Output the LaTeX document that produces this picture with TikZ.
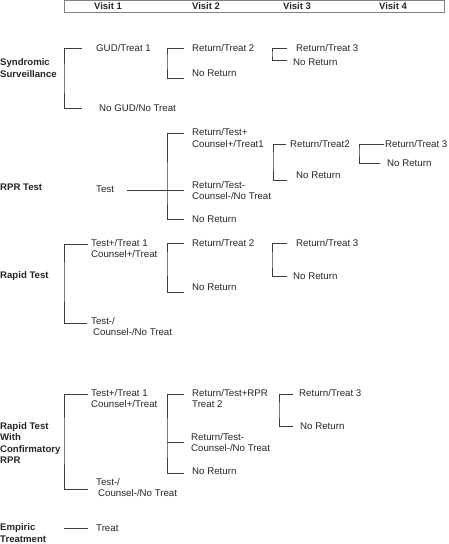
\documentclass[tikz,border=0pt]{standalone}
\usepackage{fontspec}
\setmainfont{Liberation Sans}
\usepackage{xcolor}
\definecolor{linegray}{RGB}{60, 60, 60}
\definecolor{textgray}{RGB}{38, 38, 38}
\newcommand{\twoline}[1]{\begin{tabular}[t]{@{}l@{}}#1\end{tabular}}
\tikzset{
  txt/.style={anchor=base west, inner sep=0pt, yshift=-3.4pt, text=textgray,
    font=\fontsize{9.7}{11.5}\selectfont},
  head/.style={anchor=west, align=left, inner sep=0pt, text=textgray,
    font=\fontsize{9.6}{11.5}\selectfont\bfseries},
  visit/.style={inner sep=0pt, text=textgray, font=\fontsize{9.5}{11.5}\selectfont\bfseries},
  link/.style={draw=linegray, line width=0.9pt}
}

\begin{document}
\begin{tikzpicture}[x=1pt, y=-1pt]
        \useasboundingbox (0,0) rectangle (448,544);
        % header
        \draw[link, draw=gray] (64,0.6) rectangle (444,12);
        \foreach \v/\x in {1/108,2/206,3/297,4/393} {
            \node[visit] (visit\v) at (\x,6.5) {Visit \v};
        }

        % syndromic surveillance
        \node[head] (sv) at (0,68) {Syndromic\\Surveillance};
        \coordinate (svbar) at (64,78);
        \coordinate (sv1) at (82,48);
        \coordinate (sv2) at (82,108);
        \node[txt] (gud) at (96,48) {GUD/Treat 1};
        \node[txt] (nogud) at (99,108) {No GUD/No Treat};
        \coordinate (gudbar) at (167,60);
        \coordinate (gud1) at (184,48);
        \coordinate (gud2) at (184,78);
        \node[txt] (gudret) at (192,48) {Return/Treat 2};
        \node[txt] (gudno) at (192,73.5) {No Return};
        \coordinate (gudretbar) at (272,54);
        \coordinate (gudret1) at (287,48);
        \coordinate (gudret2) at (287,60);
        \node[txt] (gudret3) at (296,48) {Return/Treat 3};
        \node[txt] (gudretno) at (293,62) {No Return};
        \draw[link] (sv1) -| (svbar) |- (sv2);
        \draw[link] (gud1) -| (gudbar) |- (gud2);
        \draw[link] (gudret1) -| (gudretbar) |- (gudret2);

        % RPR test
        \node[head] (rpr) at (0,187) {RPR Test};
        \node[txt] (test) at (96,189) {Test};
        \coordinate (rp0) at (127,190);
        \coordinate (rpbar) at (167,190);
        \coordinate (rp1) at (184,133);
        \coordinate (rp2) at (184,190);
        \coordinate (rp3) at (184,219);
        \node[txt] (rpa) at (192,132.5) {\twoline{Return/Test+\\Counsel+/Treat1}};
        \node[txt] (rpb) at (192,185) {\twoline{Return/Test-\\Counsel-/No Treat}};
        \node[txt] (rpc) at (192,219) {No Return};
        \coordinate (rpabar) at (273,160);
        \coordinate (rpa1) at (286,144);
        \coordinate (rpa2) at (287,180);
        \node[txt] (rparet) at (290,144) {Return/Treat2};
        \node[txt] (rpano) at (296,175) {No Return};
        \coordinate (rpaabar) at (359,150);
        \coordinate (rpaa1) at (384,144);
        \coordinate (rpaa2) at (380,163);
        \node[txt] (rpaaret) at (385,144) {Return/Treat 3};
        \node[txt] (rpaano) at (387,163) {No Return};
        \draw[link] (rp1) -| (rpbar) |- (rp3);
        \draw[link] (rp0) -- (rp2);
        \draw[link] (rpa1) -| (rpabar) |- (rpa2);
        \draw[link] (rpaa1) -| (rpaabar) |- (rpaa2);

        % rapid test
        \node[head] (rt) at (0,276) {Rapid Test};
        \coordinate (rtbar) at (64,280);
        \coordinate (rt1) at (88,244);
        \coordinate (rt2) at (87,323);
        \node[txt] (rta) at (91,243) {\twoline{Test+/Treat 1\\Counsel+/Treat}};
        \node[txt] (rtb) at (91,321) {\twoline{Test-/\\\hspace{2pt}Counsel-/No Treat}};
        \coordinate (rtabar) at (167,260);
        \coordinate (rta1) at (184,243);
        \coordinate (rta2) at (184,292);
        \node[txt] (rtaret) at (192,243) {Return/Treat 2};
        \node[txt] (rtano) at (192,287) {No Return};
        \coordinate (rtaabar) at (272,260);
        \coordinate (rtaa1) at (287,243);
        \coordinate (rtaa2) at (287,276);
        \node[txt] (rtaaret) at (296,243) {Return/Treat 3};
        \node[txt] (rtaano) at (293,276) {No Return};
        \draw[link] (rt1) -| (rtbar) |- (rt2);
        \draw[link] (rta1) -| (rtabar) |- (rta2);
        \draw[link] (rtaa1) -| (rtaabar) |- (rtaa2);

        % rapid test with confirmatory RPR
        \node[head] (cr) at (0,443) {Rapid Test\\With\\Confirmatory\\RPR};
        \coordinate (crbar) at (64,440);
        \coordinate (cr1) at (88,394);
        \coordinate (cr2) at (88,489);
        \node[txt] (cra) at (91,393) {\twoline{Test+/Treat 1\\Counsel+/Treat}};
        \node[txt] (crb) at (96,482) {\twoline{Test-/\\\hspace{2pt}Counsel-/No Treat}};
        \coordinate (crabar) at (167,442);
        \coordinate (cra1) at (184,394);
        \coordinate (cra2) at (184,442);
        \coordinate (cra3) at (184,473);
        \node[txt] (craret) at (192,393) {\twoline{Return/Test+RPR\\Treat 2}};
        \node[txt] (craneg) at (191,437) {\twoline{Return/Test-\\Counsel-/No Treat}};
        \node[txt] (crano) at (192,471) {No Return};
        \coordinate (craabar) at (279,410);
        \coordinate (craa1) at (293,394);
        \coordinate (craa2) at (293,426);
        \node[txt] (craaret) at (299,393) {Return/Treat 3};
        \node[txt] (craano) at (300,426) {No Return};
        \draw[link] (cr1) -| (crbar) |- (cr2);
        \draw[link] (cra1) -| (crabar) |- (cra3);
        \draw[link] (crabar) -- (cra2);
        \draw[link] (craa1) -| (craabar) |- (craa2);

        % empiric treatment
        \node[head] (em) at (0,533) {Empiric\\Treatment};
        \coordinate (em0) at (64,528);
        \coordinate (em1) at (88,528);
        \node[txt] (emt) at (96,528) {Treat};
        \draw[link] (em0) -- (em1);
    \end{tikzpicture}
\end{document}
